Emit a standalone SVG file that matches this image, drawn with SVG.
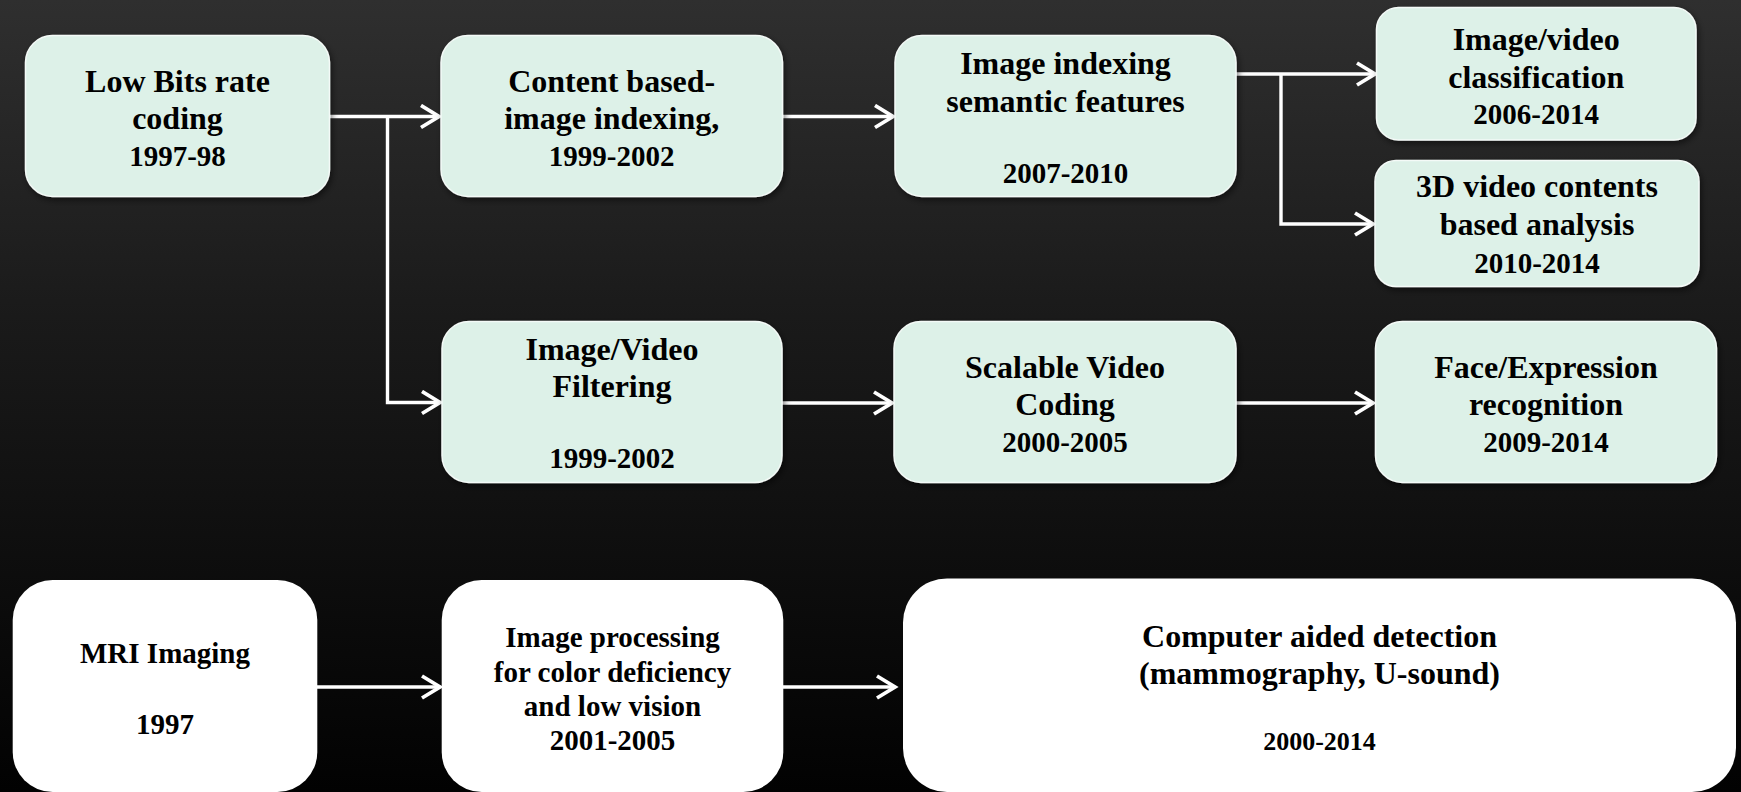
<svg xmlns="http://www.w3.org/2000/svg" width="1741" height="792" viewBox="0 0 1741 792">
<defs>
<linearGradient id="bg" x1="0" y1="0" x2="0" y2="1">
<stop offset="0" stop-color="#2f2f2f"/>
<stop offset="0.4" stop-color="#1a1a1a"/>
<stop offset="1" stop-color="#020202"/>
</linearGradient>
<filter id="sh" x="-10%" y="-10%" width="120%" height="130%">
<feDropShadow dx="2" dy="3" stdDeviation="3" flood-color="#000" flood-opacity="0.5"/>
</filter>
<marker id="ah" markerWidth="26" markerHeight="28" refX="21" refY="13" orient="auto" markerUnits="userSpaceOnUse">
<path d="M3,2 L21,13 L3,24" fill="none" stroke="#fff" stroke-width="3.8" stroke-linejoin="miter"/>
</marker>
<style>
.n{fill:#ddf1e8;stroke:#f4faf7;stroke-width:1.5;filter:url(#sh)}
.w{fill:#ffffff}
.t{font-weight:bold;fill:#000;text-anchor:middle}
.a{font-size:32px}
.d{font-size:29px}
.c{fill:none;stroke:#fff;stroke-width:3.4}
</style>
</defs>
<rect x="0" y="0" width="1741" height="792" fill="url(#bg)"/>

<g id="connectors">
<path class="c" d="M330,116.5 H439" marker-end="url(#ah)"/>
<path class="c" d="M387.5,116.5 V402.5 H440" marker-end="url(#ah)"/>
<path class="c" d="M783,116.5 H893" marker-end="url(#ah)"/>
<path class="c" d="M1236,74 H1375" marker-end="url(#ah)"/>
<path class="c" d="M1281,74 V224 H1373" marker-end="url(#ah)"/>
<path class="c" d="M782,403 H892" marker-end="url(#ah)"/>
<path class="c" d="M1236,403 H1373" marker-end="url(#ah)"/>
<path class="c" d="M317,687 H440" marker-end="url(#ah)"/>
<path class="c" d="M783,687 H895" marker-end="url(#ah)"/>
</g>

<g font-family="Liberation Serif, Times New Roman, serif">
<g id="n1">
<rect class="n" x="25.5" y="35.5" width="304" height="161" rx="27"/>
<text class="t a" x="177.5" y="92">Low Bits rate</text>
<text class="t a" x="177.5" y="129">coding</text>
<text class="t d" x="177.5" y="166">1997-98</text>
</g>
<g id="n2">
<rect class="n" x="441" y="35.5" width="341.5" height="161" rx="27"/>
<text class="t a" x="611.7" y="92">Content based-</text>
<text class="t a" x="611.7" y="129">image indexing,</text>
<text class="t d" x="611.7" y="166">1999-2002</text>
</g>
<g id="n3">
<rect class="n" x="895" y="35.5" width="341" height="161" rx="27"/>
<text class="t a" x="1065.5" y="74">Image indexing</text>
<text class="t a" x="1065.5" y="112">semantic features</text>
<text class="t d" x="1065.5" y="183">2007-2010</text>
</g>
<g id="n4">
<rect class="n" x="1376.5" y="7.5" width="319.5" height="132.5" rx="22"/>
<text class="t a" x="1536.2" y="50">Image/video</text>
<text class="t a" x="1536.2" y="88">classification</text>
<text class="t d" x="1536.2" y="124">2006-2014</text>
</g>
<g id="n5">
<rect class="n" x="1375" y="160.5" width="324" height="126" rx="21"/>
<text class="t a" x="1537" y="197">3D video contents</text>
<text class="t a" x="1537" y="235">based analysis</text>
<text class="t d" x="1537" y="272.5">2010-2014</text>
</g>
<g id="n6">
<rect class="n" x="442" y="321.5" width="340" height="161" rx="27"/>
<text class="t a" x="612" y="360">Image/Video</text>
<text class="t a" x="612" y="397">Filtering</text>
<text class="t d" x="612" y="468">1999-2002</text>
</g>
<g id="n7">
<rect class="n" x="894" y="321.5" width="342" height="161" rx="27"/>
<text class="t a" x="1065" y="378">Scalable Video</text>
<text class="t a" x="1065" y="415">Coding</text>
<text class="t d" x="1065" y="452">2000-2005</text>
</g>
<g id="n8">
<rect class="n" x="1375.5" y="321.5" width="341" height="161" rx="27"/>
<text class="t a" x="1546" y="378">Face/Expression</text>
<text class="t a" x="1546" y="415">recognition</text>
<text class="t d" x="1546" y="452">2009-2014</text>
</g>
<g id="n9">
<rect class="w" x="12.7" y="580" width="304.6" height="212" rx="40"/>
<text class="t d" x="165" y="663">MRI Imaging</text>
<text class="t d" x="165" y="734">1997</text>
</g>
<g id="n10">
<rect class="w" x="441.7" y="580" width="341.6" height="212" rx="40"/>
<text class="t d" x="612.5" y="647">Image processing</text>
<text class="t d" x="612.5" y="681.5">for color deficiency</text>
<text class="t d" x="612.5" y="716">and low vision</text>
<text class="t d" x="612.5" y="750">2001-2005</text>
</g>
<g id="n11">
<rect class="w" x="903" y="578.5" width="833" height="213.5" rx="44"/>
<text class="t a" x="1319.5" y="647">Computer aided detection</text>
<text class="t a" x="1319.5" y="683.5">(mammography, U-sound)</text>
<text class="t" font-size="26" x="1319.5" y="750">2000-2014</text>
</g>
</g>
</svg>
